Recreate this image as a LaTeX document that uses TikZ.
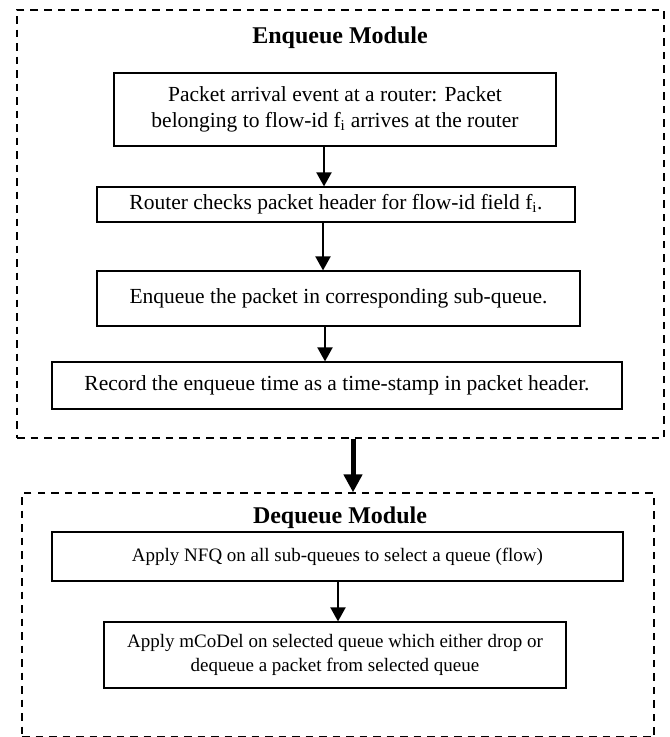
\documentclass[tikz,border=0pt]{standalone}
\usepackage{fontspec}
\setmainfont{Liberation Serif}
\usetikzlibrary{arrows.meta}

\begin{document}
\begin{tikzpicture}[x=1pt, y=-1pt,
		box/.style = {draw, line width=1.2pt, inner sep=0pt, align=center, font=\fontsize{21.5}{26}\selectfont},
		dbox/.style = {box, font=\fontsize{19}{24}\selectfont},
		module/.style = {draw, line width=1.3pt, dash pattern=on 7.5pt off 6pt, inner sep=0pt},
		title/.style = {font=\fontsize{24}{28}\selectfont\bfseries},
		flow/.style = {-{Triangle[length=14pt, width=15pt]}, line width=2pt},
		bigflow/.style = {-{Triangle[length=18pt, width=18pt]}, line width=5pt}]

		\useasboundingbox (0,0) rectangle (670,737);

		% modules
		\node[module, minimum width=647pt, minimum height=428pt] (enq) at (340.5,224) {};
		\node[module, minimum width=632pt, minimum height=244pt] (deq) at (338,615) {};
		\node[title] (enqt) at (340,38) {Enqueue Module};
		\node[title] (deqt) at (340,518) {Dequeue Module};

		% enqueue steps
		\node[box, minimum width=442pt, minimum height=73pt] (b1) at (335,109.5) {Packet arrival event at a router: Packet\\belonging to flow-id f\textsubscript{i} arrives at the router};
		\node[box, minimum width=478pt, minimum height=35pt] (b2) at (336,204.5) {Router checks packet header for flow-id field f\textsubscript{i}.};
		\node[box, minimum width=483pt, minimum height=55pt] (b3) at (338.5,298.5) {Enqueue the packet in corresponding sub-queue.};
		\node[box, minimum width=570pt, minimum height=47pt] (b4) at (337,385.5) {Record the enqueue time as a time-stamp in packet header.};

		% dequeue steps
		\node[dbox, minimum width=571pt, minimum height=49pt] (d1) at (337.5,556.5) {Apply NFQ on all sub-queues to select a queue (flow)};
		\node[dbox, minimum width=462pt, minimum height=66pt] (d2) at (335,655) {Apply mCoDel on selected queue which either drop or\\dequeue a packet from selected queue};

		\draw[flow] ([xshift=-11pt]b1.south) -- ([xshift=-12pt]b2.north);
		\draw[flow] ([xshift=-13pt]b2.south) -- ([xshift=-15.5pt]b3.north);
		\draw[flow] ([xshift=-13.5pt]b3.south) -- ([xshift=-12pt]b4.north);
		\draw[flow] ([xshift=0.5pt]d1.south) -- ([xshift=3pt]d2.north);

		\draw[bigflow] ([xshift=12.5pt]enq.south) -- ([xshift=15pt]deq.north);
	\end{tikzpicture}
\end{document}
